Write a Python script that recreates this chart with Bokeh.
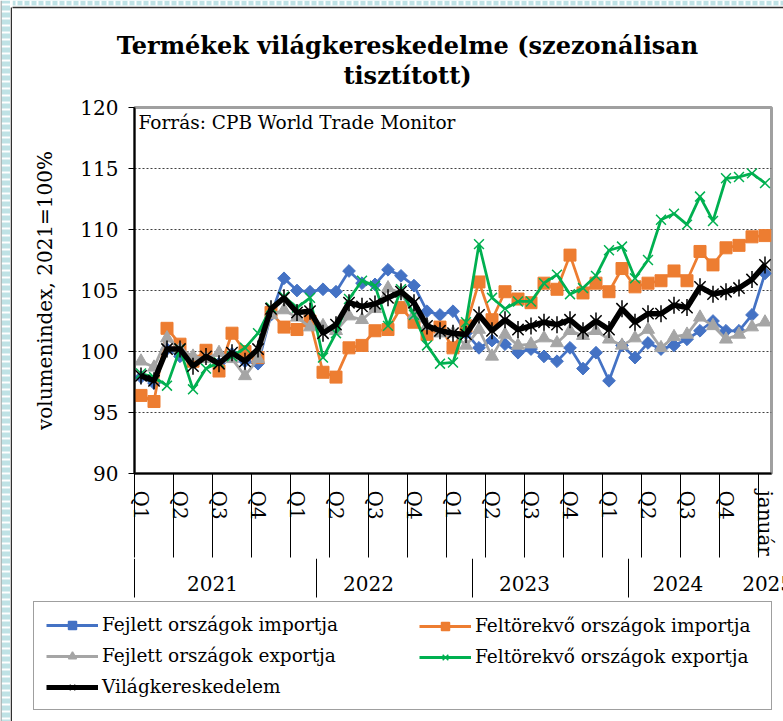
import numpy as np
from bokeh.plotting import figure
from bokeh.models import (Range1d, FixedTicker, Label, ColumnDataSource,
                          Legend, LegendItem)
from bokeh.layouts import column, row
from bokeh.embed import file_html
from bokeh.resources import INLINE

# ---------------- data ----------------
months = [f"{y}-{m:02d}" for y in (2021, 2022, 2023, 2024) for m in range(1, 13)] + ["2025-01"]

fejlett_import = [97.9, 97.4, 100.2, 99.6, 99.2, 99.6, 99.0, 99.8, 99.2, 99.0,
                  103.0, 106.0, 105.0, 104.9, 105.1, 104.9, 106.6, 105.6, 105.5, 106.7,
                  106.2, 105.4, 103.3, 103.0, 103.3, 101.5, 100.3, 100.9, 100.6, 99.9,
                  100.2, 99.6, 99.2, 100.3, 98.6, 99.9, 97.6, 100.5, 99.5, 100.7,
                  100.2, 100.5, 101.0, 101.7, 102.5, 101.7, 101.7, 103.0, 106.4]
feltorekvo_import = [96.4, 95.9, 101.9, 100.6, 99.2, 100.1, 98.4, 101.5, 100.0, 99.5,
                     103.2, 102.0, 101.8, 102.5, 98.3, 97.9, 100.3, 100.5, 101.7, 101.8,
                     103.6, 102.4, 101.4, 102.0, 100.3, 102.1, 105.7, 102.6, 104.9, 104.3,
                     104.0, 105.6, 105.1, 107.9, 104.8, 105.6, 104.9, 106.8, 105.3, 105.6,
                     105.8, 106.6, 105.8, 108.2, 107.1, 108.5, 108.7, 109.4, 109.5]
fejlett_export = [99.2, 98.7, 101.1, 100.2, 99.6, 99.4, 99.9, 99.4, 98.0, 99.4,
                  103.0, 103.4, 102.8, 102.0, 102.1, 101.7, 102.9, 102.6, 103.5, 105.2,
                  104.8, 103.0, 102.1, 101.5, 101.5, 100.5, 101.8, 99.6, 101.4, 100.5,
                  100.6, 101.1, 100.7, 101.7, 101.3, 101.7, 101.0, 100.5, 101.1, 101.8,
                  100.3, 101.2, 101.4, 102.8, 102.1, 101.0, 101.4, 102.0, 102.4]
feltorekvo_export = [98.2, 97.9, 97.2, 100.2, 96.9, 98.6, 99.1, 99.6, 100.3, 101.5,
                     103.6, 104.5, 103.6, 104.4, 99.5, 101.5, 104.3, 105.8, 105.4, 102.1,
                     105.1, 103.0, 100.5, 99.0, 99.1, 102.4, 108.8, 104.4, 103.5, 104.1,
                     104.1, 105.6, 106.3, 104.7, 105.2, 106.2, 108.3, 108.6, 106.0, 107.5,
                     110.8, 111.3, 110.4, 112.7, 110.7, 114.2, 114.3, 114.6, 113.8]
vilagkereskedelem = [98.0, 97.6, 100.2, 100.2, 98.8, 99.6, 99.0, 99.9, 99.2, 100.2,
                     103.5, 104.4, 103.2, 103.3, 101.5, 102.2, 104.0, 103.7, 103.9, 104.4,
                     104.9, 104.0, 102.1, 101.7, 101.5, 101.4, 103.0, 101.7, 102.6, 101.8,
                     102.1, 102.4, 102.2, 102.6, 101.7, 102.5, 101.8, 103.5, 102.4, 103.1,
                     103.1, 103.8, 103.6, 105.3, 104.7, 104.9, 105.2, 105.9, 107.1]

quarter_labels = ["Q1", "Q2", "Q3", "Q4", "Q1", "Q2", "Q3", "Q4",
                  "Q1", "Q2", "Q3", "Q4", "Q1", "Q2", "Q3", "Q4", "január"]
year_labels = ["2021", "2022", "2023", "2024", "2025"]
y_ticks = [90, 95, 100, 105, 110, 115, 120]

series_names = ["Fejlett országok importja", "Feltörekvő országok importja",
                "Fejlett országok exportja", "Feltörekvő országok exportja",
                "Világkereskedelem"]

# ---------------- layout constants ----------------
FONT = "DejaVu Serif"
TOTAL_W, TOTAL_H = 783, 721
OFF = 12                              # decorative page strip on the left
CW = TOTAL_W - OFF                    # width of the chart column
FRAME_L, FRAME_R = 134 - OFF, 771 - OFF   # plot-area edges inside the column
TOP_H = 90
P1_TOP, P1_BOTTOM = 17, 84
P1_H = 468
P2_H = TOTAL_H - TOP_H - P1_H
year_label_pos = [6.0, 18.0, 30.0, 41.8, 48.7]
year_sep_pos = [0, 14, 26, 38]

BLUE, ORANGE, GRAY, GREEN = "#4472C4", "#ED7D31", "#A5A5A5", "#00B050"
PAGE_CYAN = "#bfe2e5"

n = len(months)
x_centers = [i + 0.5 for i in range(n)]
src = ColumnDataSource(dict(x=x_centers, month=months,
                            fi=fejlett_import, ti=feltorekvo_import,
                            fe=fejlett_export, te=feltorekvo_export,
                            w=vilagkereskedelem))


def no_align(f):
    try:
        f.frame_align = False
    except Exception:
        pass


# ---------------- left page strip ----------------
strip = figure(width=OFF, height=TOTAL_H, x_range=Range1d(0, OFF), y_range=Range1d(0, TOTAL_H),
               output_backend="svg", toolbar_location=None, min_border=0,
               x_axis_location=None, y_axis_location=None)
strip.grid.visible = False
strip.outline_line_color = None
strip.quad(left=[1], right=[9.5], bottom=[0], top=[TOTAL_H], fill_color=PAGE_CYAN,
           line_color=None, hatch_pattern="horizontal_line", hatch_color="white",
           hatch_scale=7, hatch_weight=2)
strip.segment(x0=[0.5, 11], y0=[0, 0], x1=[0.5, 11], y1=[TOTAL_H, TOTAL_H - 7],
              line_color=["#7f7f7f", "#303030"], line_width=[1, 1.5])
no_align(strip)

# ---------------- title strip ----------------
p0 = figure(width=CW, height=TOP_H, x_range=Range1d(0, CW), y_range=Range1d(0, TOP_H),
            output_backend="svg", toolbar_location=None, min_border=0,
            x_axis_location=None, y_axis_location=None)
p0.grid.visible = False
p0.outline_line_color = None
p0.quad(left=[0], right=[CW], bottom=[TOP_H - 5], top=[TOP_H], fill_color=PAGE_CYAN,
        line_color=None, hatch_pattern="vertical_line", hatch_color="white",
        hatch_scale=7, hatch_weight=2)
p0.segment(x0=[-1], y0=[TOP_H - 7], x1=[CW], y1=[TOP_H - 7], line_color="#303030",
           line_width=1.5)
for txt, yy in (("Termékek világkereskedelme (szezonálisan", TOP_H - 45),
                ("tisztított)", TOP_H - 75)):
    p0.add_layout(Label(x=407 - OFF, y=yy, x_units="screen", y_units="screen", text=txt,
                        text_align="center", text_baseline="middle", text_font=FONT,
                        text_font_size="24px", text_font_style="bold",
                        text_color="black"))
no_align(p0)

# ---------------- chart ----------------
p = figure(width=CW, height=P1_H, x_range=Range1d(0, n), y_range=Range1d(90, 120),
           output_backend="svg", toolbar_location=None,
           min_border_left=FRAME_L, min_border_right=CW - FRAME_R,
           min_border_top=P1_TOP, min_border_bottom=P1_BOTTOM)
p.background_fill_color = "white"
p.border_fill_color = "white"
p.outline_line_color = "#a0a0a0"
p.outline_line_width = 3

label_pos = [3 * k + 0.5 for k in range(len(quarter_labels))]
bounds = [3 * k for k in range(len(quarter_labels))]
xa = p.xaxis[0]
xa.ticker = FixedTicker(ticks=label_pos, minor_ticks=bounds)
xa.major_label_overrides = {lp: q for lp, q in zip(label_pos, quarter_labels)}
xa.major_tick_out = 0
xa.major_tick_in = 0
xa.minor_tick_out = 84
xa.minor_tick_in = 0
xa.minor_tick_line_color = "black"
xa.minor_tick_line_width = 1
xa.axis_line_color = "black"
xa.axis_line_width = 2
xa.major_label_orientation = "vertical"
xa.major_label_standoff = -67
xa.major_label_text_font = FONT
xa.major_label_text_font_size = "20px"
xa.major_label_text_color = "black"

ya = p.yaxis[0]
ya.ticker = FixedTicker(ticks=y_ticks)
ya.major_tick_out = 6
ya.major_tick_in = 0
ya.minor_tick_out = 0
ya.minor_tick_in = 0
ya.major_tick_line_color = "black"
ya.axis_line_color = "black"
ya.axis_line_width = 2
ya.major_label_standoff = 10
ya.major_label_text_font = FONT
ya.major_label_text_font_size = "20px"
ya.major_label_text_color = "black"
ya.axis_label = "volumenindex, 2021=100%"
ya.axis_label_text_font = FONT
ya.axis_label_text_font_size = "20px"
ya.axis_label_text_font_style = "normal"
ya.axis_label_text_color = "black"
ya.axis_label_standoff = 20

p.xgrid.visible = False
p.ygrid.grid_line_color = "#404040"
p.ygrid.grid_line_dash = "2 2"
p.ygrid.grid_line_width = 1

p.line("x", "fi", source=src, color=BLUE, line_width=2.75)
p.scatter("x", "fi", source=src, marker="square", angle=0.785398, size=9,
          fill_color=BLUE, line_color=BLUE)
p.line("x", "ti", source=src, color=ORANGE, line_width=2.75)
p.scatter("x", "ti", source=src, marker="square", size=12,
          fill_color=ORANGE, line_color=ORANGE)
p.line("x", "fe", source=src, color=GRAY, line_width=2.75)
p.scatter("x", "fe", source=src, marker="triangle", size=13,
          fill_color=GRAY, line_color=GRAY)
p.line("x", "te", source=src, color=GREEN, line_width=2.75)
p.scatter("x", "te", source=src, marker="x", size=14, line_color=GREEN, line_width=1.5)
p.line("x", "w", source=src, color="black", line_width=5.5)
p.scatter("x", "w", source=src, marker="x", size=16, line_color="black", line_width=1.5)
p.scatter("x", "w", source=src, marker="dash", angle=1.570796, size=17,
          line_color="black", line_width=1.5)

p.add_layout(Label(x=4, y=351, x_units="screen", y_units="screen",
                   text="Forrás: CPB World Trade Monitor",
                   text_align="left", text_baseline="middle", text_font=FONT,
                   text_font_size="18.5px", text_color="black"))

# ---------------- lower panel: years and legend ----------------
px_per_unit = (FRAME_R - FRAME_L) / n
p2 = figure(width=CW, height=P2_H,
            x_range=Range1d(-FRAME_L / px_per_unit, n + (CW - FRAME_R) / px_per_unit),
            y_range=Range1d(0, P2_H), output_backend="svg", toolbar_location=None,
            min_border=0, x_axis_location=None, y_axis_location=None)
p2.grid.visible = False
p2.outline_line_color = None
p2.background_fill_color = "white"
p2.border_fill_color = "white"
no_align(p2)

p2.segment(x0=year_sep_pos, y0=[P2_H] * len(year_sep_pos), x1=year_sep_pos,
           y1=[P2_H - 39] * len(year_sep_pos), line_color="black", line_width=1)
p2.text(x=year_label_pos, y=[P2_H - 25] * len(year_labels), text=year_labels,
        text_align="center", text_baseline="middle", text_font={"value": FONT},
        text_font_size="20px", text_color="black")

nan = [np.nan]
def legend_renderers(marker, color, lw, size, angle=0.0, dash=False):
    r = [p2.line(nan, nan, color=color, line_width=lw)]
    r.append(p2.scatter(nan, nan, marker=marker, size=size, fill_color=color,
                        line_color=color, line_width=1.5, angle=angle))
    if dash:
        r.append(p2.scatter(nan, nan, marker="dash", angle=1.570796, size=size,
                            line_color=color, line_width=1.5))
    return r

li_fi = LegendItem(label=series_names[0], renderers=legend_renderers("square", BLUE, 3, 8, 0.785398))
li_ti = LegendItem(label=series_names[1], renderers=legend_renderers("square", ORANGE, 3, 10))
li_fe = LegendItem(label=series_names[2], renderers=legend_renderers("triangle", GRAY, 3, 10))
li_te = LegendItem(label=series_names[3], renderers=legend_renderers("x", GREEN, 3, 10))
li_w = LegendItem(label=series_names[4], renderers=legend_renderers("x", "black", 5, 10, dash=True))

common = dict(padding=12, spacing=10, glyph_width=52, glyph_height=20, label_standoff=4,
              label_height=20, label_text_font=FONT, label_text_font_size="18.5px",
              label_text_color="black", margin=0, orientation="vertical")
legA = Legend(items=[li_fi, li_fe, li_w], location=(33 - OFF, 11), label_width=657,
              border_line_color="#404040", border_line_width=1,
              background_fill_color="white", background_fill_alpha=1.0, **common)
legB = Legend(items=[li_ti, li_te], location=(419 - OFF, 54), label_width=280,
              border_line_color=None, background_fill_alpha=0.0, **common)
p2.add_layout(legA)
p2.add_layout(legB)

layout = row(strip, column(p0, p, p2, spacing=0), spacing=0)
open("out.html", "w").write(file_html(layout, INLINE))
